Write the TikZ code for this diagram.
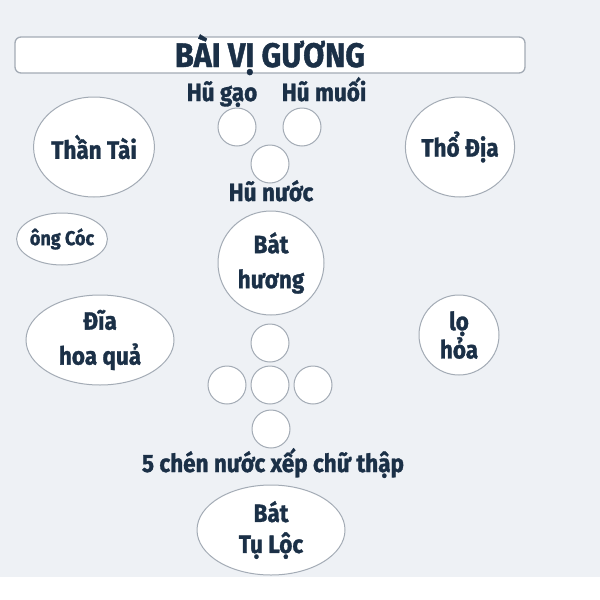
\documentclass[tikz,border=0pt]{standalone}
\usepackage{fontspec}
\setmainfont{Fira Sans}[BoldFont={Fira Sans Bold},BoldFeatures={FakeBold=1.2},FakeStretch=0.9]
\usetikzlibrary{shapes.geometric}
\definecolor{bg}{HTML}{EEF1F5}
\definecolor{ink}{HTML}{1B3047}
\definecolor{rim}{HTML}{A3ABB5}
\begin{document}
\begin{tikzpicture}[x=1pt,y=-1pt,
  lbl/.style={text=ink,font=\bfseries\fontsize{25}{27}\selectfont,inner sep=0pt,anchor=base},
  cup/.style={circle,draw=rim,fill=white,line width=1pt,minimum size=38pt,inner sep=0pt},
  oval/.style={ellipse,draw=rim,fill=white,line width=1pt,inner sep=0pt,text=ink,align=center,
    font=\bfseries\fontsize{25}{35}\selectfont},
]
\useasboundingbox (0,0) rectangle (600,600);
\fill[white] (0,0) rectangle (600,600);
\fill[bg] (0,0) rectangle (600,577);
% title
\node[draw=rim,fill=white,line width=1.3pt,rounded corners=6pt,minimum width=510pt,minimum height=36pt,inner sep=0pt] (title) at (270,55) {};
\node[text=ink,font=\bfseries\fontsize{34}{36}\selectfont,anchor=base,inner sep=0pt] (titletext) at (270,67) {BÀI VỊ GƯƠNG};
% jars
\node[lbl] (tgao) at (222,101) {Hũ gạo};
\node[lbl] (tmuoi) at (324,101) {Hũ muối};
\node[cup] (gao) at (237,127) {};
\node[cup] (muoi) at (302,127) {};
\node[cup] (nuoc) at (270,164) {};
\node[lbl] (tnuoc) at (271,201) {Hũ nước};
% gods
\node[oval,minimum width=98pt,minimum height=100pt] (thantai) at (94,147) {Thần Tài};
\node[oval,minimum width=100pt,minimum height=100pt] (thodia) at (460,147) {Thổ Địa};
\node[oval,minimum width=90pt,minimum height=52pt,font=\bfseries\fontsize{20}{22}\selectfont] (ongcoc) at (62,239) {ông Cóc};
\node[oval,minimum width=106pt,minimum height=104pt] (bathuong) at (271,263) {Bát\\hương};
\node[oval,minimum width=148pt,minimum height=90pt] (dia) at (100,340) {Đĩa\\hoa quả};
\node[oval,minimum width=80pt,minimum height=80pt,font=\bfseries\fontsize{25}{23}\selectfont] (lohoa) at (459,335) {lọ\\hỏa};
% cross of cups
\node[cup] (c1) at (270,343) {};
\node[cup] (c2) at (227,385) {};
\node[cup] (c3) at (270,385) {};
\node[cup] (c4) at (313,385) {};
\node[cup] (c5) at (271,429) {};
\node[lbl] (tchen) at (273,472) {5 chén nước xếp chữ thập};
\node[oval,minimum width=148pt,minimum height=90pt,font=\bfseries\fontsize{25}{31}\selectfont] (tuloc) at (271,530) {Bát\\Tụ Lộc};
\end{tikzpicture}
\end{document}
